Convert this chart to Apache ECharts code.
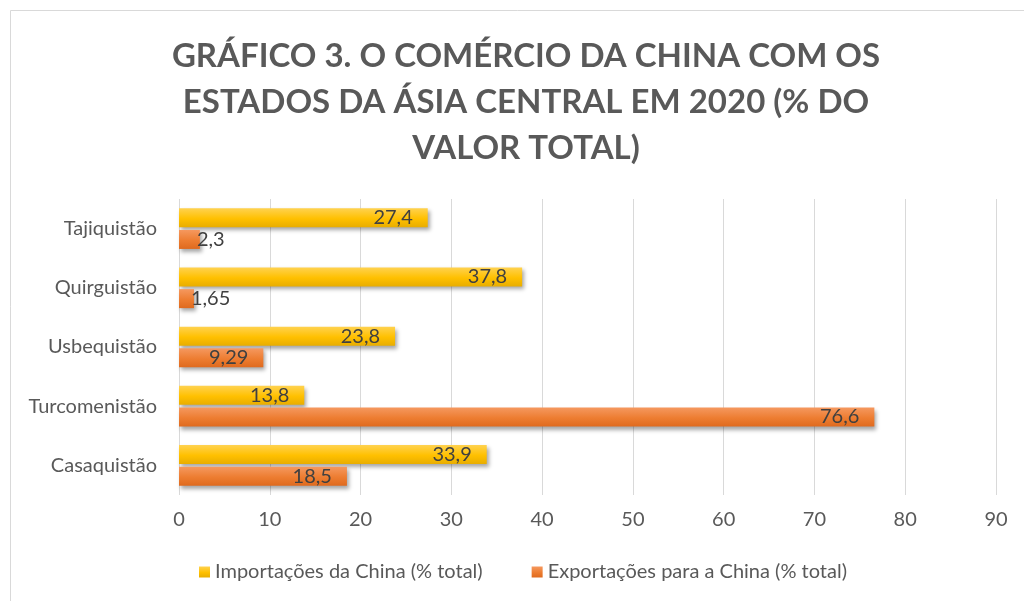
<!DOCTYPE html>
<html>
<head>
<meta charset="utf-8">
<title>Comércio da China com a Ásia Central 2020</title>
<script src="https://cdn.jsdelivr.net/npm/echarts@6/dist/echarts.min.js"></script>
<style>
  html, body { margin: 0; padding: 0; background: #ffffff; }
  #chart { width: 1024px; height: 601px; }
</style>
</head>
<body>
<div id="chart"></div>
<script>
// Countries, listed top to bottom
const countries = ['Tajiquistão', 'Quirguistão', 'Usbequistão', 'Turcomenistão', 'Casaquistão'];
// Share of each country's trade with China, % of total value
const importsFromChina = [27.4, 37.8, 23.8, 13.8, 33.9];
const exportsToChina = [2.3, 1.65, 9.29, 76.6, 18.5];
const seriesNames = ['Importações da China (% total)', 'Exportações para a China (% total)'];
const titleText = 'GRÁFICO 3. O COMÉRCIO DA CHINA COM OS\nESTADOS DA ÁSIA CENTRAL EM 2020 (% DO\nVALOR TOTAL)';
const xTicks = { min: 0, max: 90, step: 10 };

const FONT = 'Lato, "Open Sans", sans-serif';
const TEXT_GREY = '#595959';
const LABEL_GREY = '#404040';

function vGradient(top, mid, bottom) {
  return new echarts.graphic.LinearGradient(0, 0, 0, 1, [
    { offset: 0, color: top },
    { offset: 0.55, color: mid },
    { offset: 1, color: bottom }
  ]);
}

const yellowFill = vGradient('#ffd24f', '#ffc000', '#e8ad00');
const orangeFill = vGradient('#f5985f', '#ed7d31', '#df6a1e');

// Values too short to hold their own label get it just past the bar end
function toBarData(values) {
  return values.map(function (v) {
    if (v < 5) {
      return { value: v, label: { position: 'right', distance: -3 } };
    }
    return v;
  });
}

const barStyle = function (fill) {
  return {
    color: fill,
    shadowColor: 'rgba(0,0,0,0.35)',
    shadowBlur: 4,
    shadowOffsetX: 2,
    shadowOffsetY: 3
  };
};

const valueLabel = {
  show: true,
  position: 'insideRight',
  distance: 15,
  color: LABEL_GREY,
  fontFamily: FONT,
  fontSize: 20,
  formatter: function (p) { return String(p.value).replace('.', ','); }
};

const chart = echarts.init(document.getElementById('chart'), null, { renderer: 'canvas' });

chart.setOption({
  backgroundColor: '#ffffff',
  animation: false,
  title: {
    text: titleText,
    left: 521,
    textAlign: 'center',
    top: 28,
    textStyle: {
      fontFamily: FONT,
      fontWeight: 'bold',
      fontSize: 33,
      lineHeight: 46,
      color: TEXT_GREY
    }
  },
  graphic: [{
    type: 'rect',
    shape: { x: 10.5, y: 10.5, width: 1100, height: 700 },
    style: { fill: 'none', stroke: '#d9d9d9', lineWidth: 1 },
    silent: true,
    z: -1
  }],
  legend: {
    data: seriesNames,
    bottom: 14,
    left: 194,
    icon: 'rect',
    itemWidth: 11,
    itemHeight: 11,
    itemGap: 49,
    textStyle: { fontFamily: FONT, fontSize: 20, color: TEXT_GREY }
  },
  grid: { left: 179, right: 28, top: 199, bottom: 106, containLabel: false },
  xAxis: {
    type: 'value',
    min: xTicks.min,
    max: xTicks.max,
    interval: xTicks.step,
    axisLine: { show: false },
    axisTick: { show: false },
    splitLine: { show: true, lineStyle: { color: '#d9d9d9', width: 1 } },
    axisLabel: { margin: 15, color: TEXT_GREY, fontFamily: FONT, fontSize: 20 }
  },
  yAxis: {
    type: 'category',
    inverse: true,
    data: countries,
    axisLine: { show: false },
    axisTick: { show: false },
    axisLabel: { margin: 22, color: TEXT_GREY, fontFamily: FONT, fontSize: 20 }
  },
  series: [
    {
      name: seriesNames[0],
      type: 'bar',
      data: toBarData(importsFromChina),
      barWidth: 19,
      barGap: '14%',
      itemStyle: barStyle(yellowFill),
      label: valueLabel
    },
    {
      name: seriesNames[1],
      type: 'bar',
      data: toBarData(exportsToChina),
      barWidth: 19,
      barGap: '14%',
      itemStyle: barStyle(orangeFill),
      label: valueLabel
    }
  ]
});
</script>
</body>
</html>
